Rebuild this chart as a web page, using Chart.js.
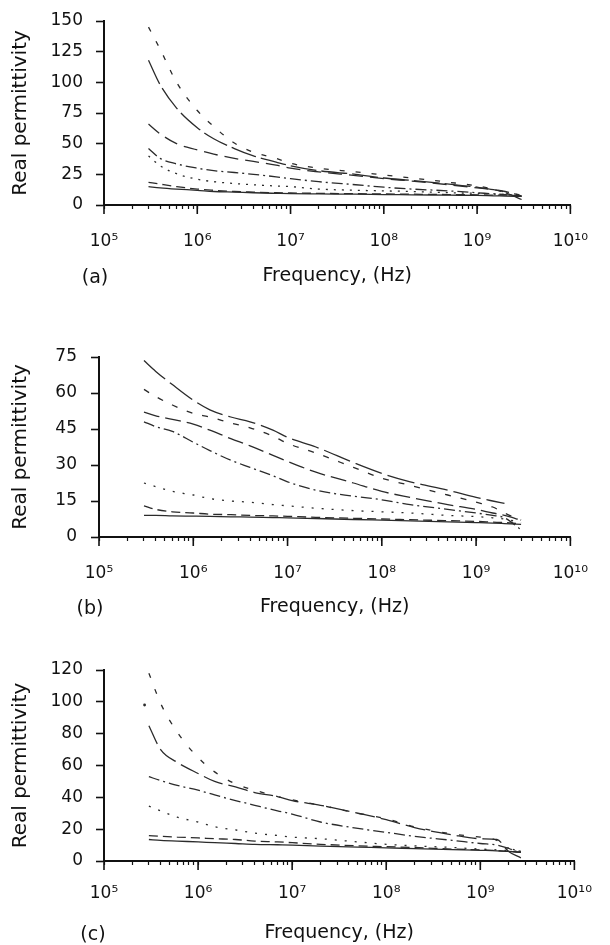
<!DOCTYPE html>
<html>
<head>
<meta charset="utf-8">
<script src="https://cdn.jsdelivr.net/npm/chart.js@4.4.1/dist/chart.umd.min.js"></script>
<style>
body { margin: 0; background: #fff; }
#page { position: relative; width: 610px; height: 945px; overflow: hidden; }
#page canvas { position: absolute; left: 0; }
.tag { position: absolute; font: 19px "DejaVu Sans", sans-serif; color: #111; transform: translate(-50%, -50%); }
</style>
</head>
<body>
<div id="page">
  <canvas id="chart-a"></canvas>
  <canvas id="chart-b"></canvas>
  <canvas id="chart-c"></canvas>
  <div class="tag" style="left:95px;top:276px">(a)</div>
  <div class="tag" style="left:90px;top:607px">(b)</div>
  <div class="tag" style="left:93px;top:933px">(c)</div>
</div>
<script>
// frequency grid (Hz) used for panels (a) and (b)
const freqAB = [3e5, 4e5, 6e5, 1e6, 1.5e6, 2.5e6, 4e6, 7e6, 1e7, 2e7, 5e7, 1e8, 2e8, 5e8, 1e9, 1.5e9, 2e9, 3e9];
// panel (c)
const freqC = [3e5, 4e5, 6e5, 1e6, 1.5e6, 2.5e6, 4e6, 7e6, 1e7, 2e7, 5e7, 1e8, 2e8, 5e8, 1e9, 1.5e9, 2e9, 2.7e9];
// lone first point of the long-dash curve in (c)
const freqC0 = [2.7e5];
const permC0 = [98];

// (a) real permittivity
const permA1 = [145, 127, 100, 77, 64, 50.5, 43, 38, 34, 30, 27, 24.5, 22, 18.5, 15.5, 13, 10.5, 8];
const permA2 = [118, 98, 79, 63, 54, 46, 40, 35, 32, 28, 25, 22, 20, 17, 14.5, 12.5, 10, 4.5];
const permA3 = [66, 58, 50, 45, 41.5, 38, 35.5, 32.5, 30, 27, 24, 21.5, 19.5, 16.5, 14, 12.5, 11, 7.5];
const permA4 = [46, 38, 33.5, 30, 28, 26.5, 25, 23, 21.5, 19, 16.5, 14.5, 13, 11.5, 10, 9, 8.5, 7];
const permA5 = [40, 32, 25.5, 21, 19, 17.5, 16.5, 15.5, 15, 13, 12, 11.5, 11, 10, 9.5, 9, 8.5, 8];
const permA6 = [18.5, 17, 15, 13, 12, 11, 10.5, 10, 9.8, 9.5, 9.2, 9, 8.8, 8.5, 8.3, 8, 8, 7.5];
const permA7 = [15, 14, 13, 12, 11, 10.5, 10, 9.5, 9.2, 9, 8.8, 8.5, 8.3, 8, 7.8, 7.5, 7.3, 7];

// (b)
const permB1 = [73.5, 69, 63.5, 57, 53, 50, 48, 44.5, 41.5, 37.5, 31, 26.5, 23, 19.5, 16.5, 15, 14, null];
const permB2 = [61.5, 58.5, 55, 51.5, 50, 47.5, 45.5, 42, 39, 35, 29, 24.5, 21.5, 17.5, 14.5, 12.5, 10, 7];
const permB3 = [52, 50.5, 49, 47, 44.5, 41, 38, 34, 31.5, 27, 22.5, 19, 16.5, 13.5, 11.5, 10, 9, 7];
const permB4 = [48, 46, 44, 39.5, 36, 32, 29, 25.5, 23, 19.5, 17, 15.5, 13.5, 11.5, 10, 9, 8, 3];
const permB5 = [22.5, 21, 19, 17.5, 16, 15, 14.5, 13.5, 13, 12, 11, 10.5, 10, 9, 8.5, 8, 7.5, 6];
const permB6 = [13, 11.5, 10.5, 10, 9.5, 9.3, 9, 8.8, 8.6, 8.2, 7.8, 7.5, 7.2, 6.8, 6.5, 6.2, 6, 5.5];
const permB7 = [9, 9, 8.8, 8.7, 8.6, 8.4, 8.3, 8.1, 8, 7.7, 7.3, 7, 6.7, 6.3, 6, 5.8, 5.6, 5.3];

// (c)
const permC1 = [118, 99, 81, 65, 56, 48.5, 44.5, 40.5, 38.5, 35, 30, 26.5, 21.5, 17, 15, 13, 8, 5.5];
const permC2 = [85, 70, 62, 55, 50, 46.5, 43, 40.5, 38, 35, 30, 26, 21, 16.5, 14, 13.5, 6, 2];
const permC3 = [53, 50.5, 47.5, 44.5, 41.5, 38, 35, 31.5, 29.5, 24.5, 20.5, 18, 15.5, 13, 11, 10, 8, 6];
const permC4 = [34.5, 31.5, 27.5, 24.5, 21.5, 19.5, 17.5, 16, 15, 14, 12, 10.5, 9.5, 8.5, 7.5, 7, 6.5, 6];
const permC5 = [16, 15.5, 15, 14.5, 14, 13.5, 12.5, 12, 11.5, 10.5, 9.5, 9, 8.5, 7.5, 7, 6.5, 6, 5.5];
const permC6 = [13.5, 13, 12.5, 12, 11.5, 11, 10.5, 10.2, 10, 9.3, 8.7, 8.3, 7.8, 7.2, 6.7, 6.4, 6, 5.5];

// tick labels
const yTicksA = [0, 25, 50, 75, 100, 125, 150];
const yTicksB = [0, 15, 30, 45, 60, 75];
const yTicksC = [0, 20, 40, 60, 80, 100, 120];
const decadeExps = [5, 6, 7, 8, 9, 10];

const yTitle = 'Real permittivity';
const xTitle = 'Frequency, (Hz)';

Chart.defaults.font.family = '"DejaVu Sans", sans-serif';
Chart.defaults.font.size = 17;
Chart.defaults.color = '#111';

const SUP = { '0': '\u2070', '1': '\u00b9', '2': '\u00b2', '3': '\u00b3', '4': '\u2074', '5': '\u2075', '6': '\u2076', '7': '\u2077', '8': '\u2078', '9': '\u2079' };
function decadeLabel(e) {
    return '10' + String(e).split('').map(c => SUP[c]).join('');
}
function isDecade(v) {
    const l = Math.log10(v);
    return Math.abs(l - Math.round(l)) < 1e-9;
}

// all log tick positions 1..9 x 10^e
const xTickValues = [];
decadeExps.forEach(e => {
    if (e === decadeExps[decadeExps.length - 1]) { xTickValues.push(Math.pow(10, e)); return; }
    for (let m = 1; m <= 9; m++) xTickValues.push(m * Math.pow(10, e));
});

// longer tick marks at the decades
const majorTicks = {
    id: 'majorTicks',
    afterDraw(chart) {
        const x = chart.scales.x, ctx = chart.ctx, y0 = chart.chartArea.bottom;
        ctx.save();
        ctx.strokeStyle = '#111';
        ctx.lineWidth = 1.6;
        decadeExps.forEach(e => {
            const px = x.getPixelForValue(Math.pow(10, e));
            ctx.beginPath();
            ctx.moveTo(px, y0);
            ctx.lineTo(px, y0 + 9);
            ctx.stroke();
        });
        ctx.restore();
    }
};

function lineSet(freq, vals, dash) {
    return {
        data: freq.map((f, j) => ({ x: f, y: vals[j] })),
        borderColor: '#2b2b2b',
        borderWidth: 1.3,
        borderDash: dash,
        pointRadius: 0,
        fill: false,
        cubicInterpolationMode: 'monotone',
        spanGaps: false
    };
}

function makePanel(p) {
    const canvas = document.getElementById(p.id);
    const padTop = 30, xAxisH = p.xAxisH;
    canvas.width = 610;
    canvas.height = padTop + (p.bottom - p.top) + xAxisH;
    canvas.style.top = (p.top - padTop) + 'px';

    const datasets = p.series.map((vals, i) => lineSet(p.freq, vals, p.dashes[i]));
    if (p.dots) {
        datasets.push({
            data: p.dots.freq.map((f, j) => ({ x: f, y: p.dots.vals[j] })),
            showLine: false,
            pointRadius: 1.4,
            pointBackgroundColor: '#2b2b2b',
            pointBorderWidth: 0
        });
    }

    new Chart(canvas.getContext('2d'), {
        type: 'line',
        data: { datasets: datasets },
        options: {
            responsive: false,
            animation: false,
            events: [],
            layout: { padding: { top: padTop, left: 0, right: 610 - p.right, bottom: 0 } },
            plugins: { legend: { display: false }, tooltip: { enabled: false } },
            scales: {
                x: {
                    type: 'logarithmic',
                    min: 1e5,
                    max: 1e10,
                    afterBuildTicks: s => { s.ticks = xTickValues.map(v => ({ value: v })); },
                    afterFit: s => { s.height = xAxisH; },
                    border: { display: true, color: '#111', width: 2 },
                    grid: { drawOnChartArea: false, drawTicks: true, tickLength: 4, tickColor: '#111', tickWidth: 1.2 },
                    ticks: {
                        autoSkip: false,
                        maxRotation: 0,
                        minRotation: 0,
                        padding: p.xLabelPad,
                        color: '#111',
                        callback: v => isDecade(v) ? decadeLabel(Math.round(Math.log10(v))) : ''
                    },
                    title: { display: true, text: xTitle, color: '#111', font: { size: 19 }, padding: { top: 0, bottom: 0 } }
                },
                y: {
                    type: 'linear',
                    min: 0,
                    max: p.yTicks[p.yTicks.length - 1],
                    afterBuildTicks: s => { s.ticks = p.yTicks.map(v => ({ value: v })); },
                    afterFit: s => { s.width = p.left; },
                    border: { display: true, color: '#111', width: 2 },
                    grid: { drawOnChartArea: false, drawTicks: true, tickLength: 8, tickColor: '#111', tickWidth: 1.6 },
                    ticks: { padding: p.yLabelPad, color: '#111' },
                    title: { display: true, text: yTitle, color: '#111', font: { size: 20 }, padding: { top: 9, bottom: 0 } }
                }
            }
        },
        plugins: [majorTicks]
    });
}

makePanel({
    id: 'chart-a', top: 21, bottom: 205, left: 104, right: 588, xAxisH: 82, xLabelPad: 22, yLabelPad: 13,
    freq: freqAB, yTicks: yTicksA,
    series: [permA1, permA2, permA3, permA4, permA5, permA6, permA7],
    dashes: [[5, 11], [26, 5], [14, 7], [11, 4, 2, 4], [2, 6], [9, 5], []]
});
makePanel({
    id: 'chart-b', top: 357, bottom: 537, left: 99, right: 584, xAxisH: 81, xLabelPad: 22, yLabelPad: 14,
    freq: freqAB, yTicks: yTicksB,
    series: [permB1, permB2, permB3, permB4, permB5, permB6, permB7],
    dashes: [[28, 6], [6, 10], [16, 6], [11, 4, 2, 4], [2, 8], [9, 5], []]
});
makePanel({
    id: 'chart-c', top: 670, bottom: 861, left: 104, right: 589, xAxisH: 83, xLabelPad: 18, yLabelPad: 13,
    freq: freqC, yTicks: yTicksC,
    series: [permC1, permC2, permC3, permC4, permC5, permC6],
    dashes: [[5, 12], [20, 6], [11, 4, 2, 4], [2, 8], [9, 5], []],
    dots: { freq: freqC0, vals: permC0 }
});
</script>
</body>
</html>
